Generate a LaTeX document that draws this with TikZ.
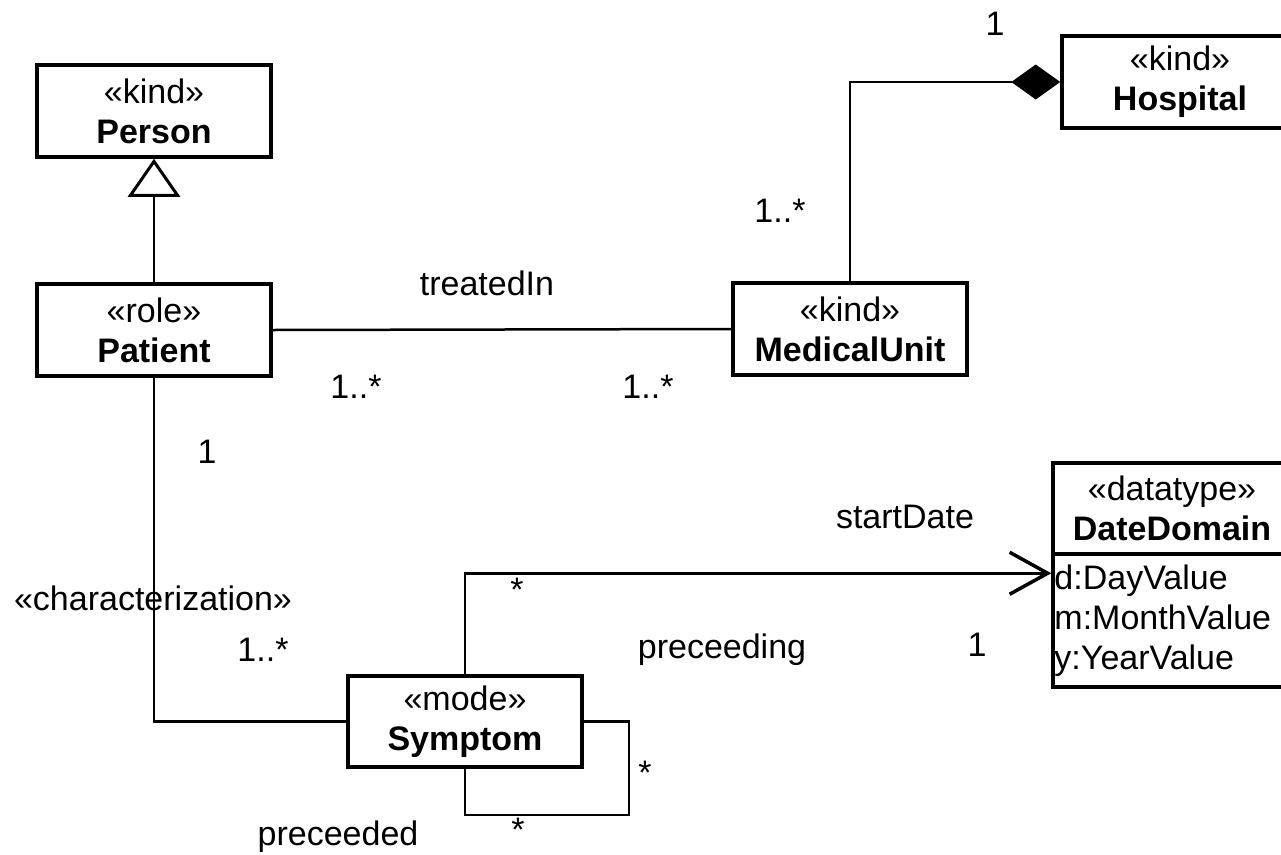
\documentclass[tikz,border=0pt]{standalone}
\usepackage{fontspec}
\setmainfont{Liberation Sans}
\usetikzlibrary{arrows.meta,calc}
\tikzset{
  umlfont/.style={font=\fontsize{34}{40}\selectfont},
  classbox/.style={draw, line width=3.5pt, rectangle, align=center, inner sep=0pt, umlfont},
  assoc/.style={line width=2.5pt},
  lbl/.style={umlfont, inner sep=0pt},
}
\begin{document}
\begin{tikzpicture}[x=1pt,y=-1pt]
\useasboundingbox (0,0) rectangle (1281,854);
\clip (0,0) rectangle (1281,854);
\fill[white] (0,0) rectangle (1281,854);

% classes
\node[classbox, minimum width=234pt, minimum height=92pt] (person) at (154,111) {«kind»\\\textbf{Person}};
\node[classbox, minimum width=234pt, minimum height=92pt] (patient) at (154,330) {«role»\\\textbf{Patient}};
\node[classbox, minimum width=234pt, minimum height=92pt] (mu) at (850,329) {«kind»\\\textbf{MedicalUnit}};
\node[classbox, minimum width=236pt, minimum height=92pt] (hospital) at (1180,82) {«kind»\\\textbf{Hospital}};
\node[classbox, minimum width=234pt, minimum height=91pt] (symptom) at (465,721.5) {«mode»\\\textbf{Symptom}};
\node[classbox, minimum width=238pt, minimum height=91pt] (datehead) at (1172,508.5) {«datatype»\\\textbf{DateDomain}};
\node[classbox, minimum width=238pt, minimum height=133pt] (dateattr) at (1172,620.5) {};
\node[lbl, anchor=west, align=left] (dateattrs) at ($(dateattr.west)+(3,0)$) {d:DayValue\\m:MonthValue\\y:YearValue};

% generalization
\draw[assoc, -{Triangle[length=38pt, width=52pt, line width=3pt, fill=white]}] (patient.north) -- (person.south);
% composition
\draw[assoc, -{Diamond[length=49pt, width=35pt]}] (mu.north) |- (hospital.west);
% treatedIn
\draw[assoc] (patient.east) -- (mu.west);
% characterization
\draw[assoc] (patient.south) |- (symptom.west);
% startDate
\coordinate (dateptr) at ($(dateattr.north west)+(0,21)$);
\draw[assoc, -{Straight Barb[length=38pt, width=42pt, line width=3.5pt]}] (symptom.north) |- (dateptr);
% preceeding / preceeded self association
\draw[assoc] (symptom.east) -- ++(45,0) |- ($(symptom.south)+(0,46)$) -- (symptom.south);

% labels
\node[lbl] (m1) at (995,24) {1};
\node[lbl] (m2) at (780,211) {1..*};
\node[lbl] (treated) at (487,283) {treatedIn};
\node[lbl] (m3) at (356,387) {1..*};
\node[lbl] (m4) at (648,387) {1..*};
\node[lbl] (m5) at (207,452) {1};
\node[lbl] (startlbl) at (905,517) {startDate};
\node[lbl] (charlbl) at (153,598) {«characterization»};
\node[lbl] (m6) at (517,590) {*};
\node[lbl] (m7) at (263,650) {1..*};
\node[lbl] (precing) at (722,650) {preceeding};
\node[lbl] (m8) at (977,645) {1};
\node[lbl] (m9) at (645,773) {*};
\node[lbl] (m10) at (518,830) {*};
\node[lbl] (preced) at (338,837) {preceeded};
\end{tikzpicture}
\end{document}
